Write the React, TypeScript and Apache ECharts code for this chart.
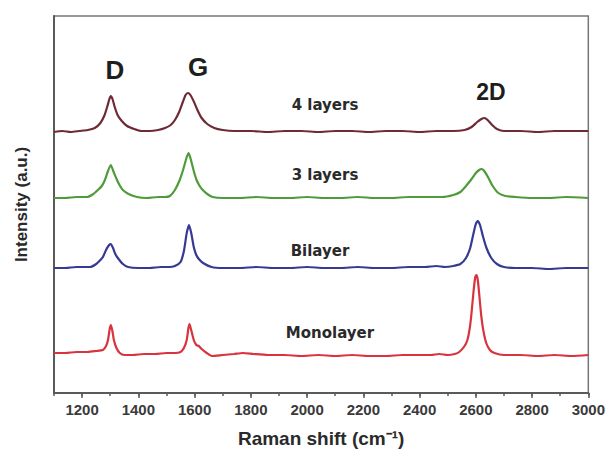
import React, { useEffect, useRef } from "react";
import * as echarts from "echarts";

// Raman spectra: [Raman shift (cm-1), intensity (a.u., offset for display)]
const seriesNames = ["4 layers", "3 layers", "Bilayer", "Monolayer"];
const seriesColors = ["#6e2b36", "#4f9b3b", "#363a92", "#d8333f"];

const fourLayers: number[][] = [
  [1100, 261], [1130, 262], [1160, 261], [1190, 262], [1220, 263], [1245, 265], [1265, 270],
  [1280, 278], [1290, 287], [1297, 294], [1302, 297], [1308, 294], [1316, 286], [1326, 278],
  [1341, 272], [1360, 267], [1385, 264], [1410, 262], [1440, 262], [1470, 263], [1495, 265],
  [1515, 268], [1530, 273], [1545, 281], [1558, 291], [1568, 298], [1576, 300], [1585, 298],
  [1598, 291], [1610, 283], [1625, 275], [1645, 269], [1670, 265], [1700, 263], [1740, 262],
  [1800, 262], [1860, 261], [1920, 262], [1980, 262], [2040, 261], [2100, 262], [2160, 262],
  [2220, 261], [2280, 262], [2340, 262], [2400, 261], [2460, 262], [2520, 262], [2560, 263],
  [2585, 266], [2605, 271], [2620, 274], [2630, 275], [2642, 273], [2658, 268], [2675, 264],
  [2700, 262], [2760, 262], [2820, 261], [2880, 262], [2940, 262], [3000, 262],
];

const threeLayers: number[][] = [
  [1100, 195], [1140, 195], [1180, 196], [1217, 196], [1240, 199], [1256, 203], [1270, 207],
  [1281, 213], [1292, 222], [1302, 228], [1312, 221], [1324, 213], [1335, 207], [1345, 203],
  [1365, 199], [1395, 196], [1430, 195], [1470, 196], [1495, 196], [1512, 197], [1530, 203],
  [1547, 213], [1560, 224], [1572, 236], [1579, 240], [1587, 233], [1597, 222], [1607, 213],
  [1618, 207], [1629, 203], [1645, 199], [1664, 196], [1700, 195], [1760, 195], [1820, 196],
  [1880, 195], [1940, 195], [2000, 196], [2060, 195], [2120, 195], [2180, 196], [2240, 195],
  [2300, 195], [2360, 196], [2420, 196], [2480, 196], [2520, 198], [2545, 201], [2565, 207],
  [2585, 214], [2600, 220], [2612, 223], [2620, 224], [2630, 222], [2645, 215], [2660, 207],
  [2680, 200], [2705, 197], [2740, 196], [2800, 195], [2860, 195], [2920, 196], [3000, 195],
];

const bilayer: number[][] = [
  [1100, 125], [1140, 125], [1180, 126], [1228, 126], [1250, 129], [1265, 133], [1274, 136],
  [1285, 143], [1296, 148], [1302, 149], [1310, 145], [1318, 139], [1327, 135], [1345, 129],
  [1363, 126], [1400, 125], [1440, 125], [1480, 126], [1510, 126], [1530, 127], [1550, 131],
  [1562, 142], [1572, 160], [1580, 168], [1588, 160], [1597, 146], [1606, 138], [1615, 134],
  [1630, 130], [1660, 126], [1700, 125], [1760, 125], [1820, 126], [1880, 125], [1940, 125],
  [2000, 126], [2060, 125], [2120, 125], [2180, 126], [2240, 125], [2300, 125], [2360, 126],
  [2420, 126], [2460, 127], [2490, 126], [2520, 127], [2545, 129], [2565, 135], [2580, 145],
  [2592, 160], [2600, 169], [2607, 172], [2615, 168], [2625, 157], [2638, 145], [2655, 135],
  [2675, 129], [2700, 126], [2740, 125], [2800, 125], [2860, 124], [2920, 125], [3000, 125],
];

const monolayer: number[][] = [
  [1100, 40], [1140, 40], [1180, 41], [1220, 41], [1250, 42], [1274, 43], [1285, 47],
  [1292, 53], [1298, 64], [1302, 68], [1307, 63], [1313, 53], [1322, 45], [1334, 40],
  [1350, 38], [1380, 38], [1420, 39], [1460, 39], [1500, 40], [1530, 40], [1550, 41],
  [1562, 45], [1572, 53], [1578, 65], [1582, 69], [1587, 64], [1597, 53], [1606, 48],
  [1615, 47], [1625, 44], [1643, 40], [1661, 37], [1700, 38], [1740, 39], [1771, 40],
  [1810, 39], [1860, 38], [1920, 38], [1980, 37], [2040, 38], [2100, 37], [2160, 38],
  [2220, 37], [2280, 37], [2340, 38], [2400, 38], [2440, 38], [2470, 39], [2500, 38],
  [2525, 39], [2541, 41], [2560, 47], [2570, 53], [2578, 64], [2584, 78], [2592, 102],
  [2598, 116], [2602, 118], [2607, 113], [2613, 96], [2619, 78], [2627, 62], [2637, 50],
  [2650, 43], [2666, 40], [2700, 38], [2760, 38], [2820, 37], [2880, 38], [2940, 37], [3000, 38],
];

const seriesData = [fourLayers, threeLayers, bilayer, monolayer];

const xTickLabels = [1200, 1400, 1600, 1800, 2000, 2200, 2400, 2600, 2800, 3000];
const xMin = 1100;
const xMax = 3000;

const peakLabels = [
  { text: "D", x: 115, y: 70, size: 26 },
  { text: "G", x: 198, y: 67, size: 26 },
  { text: "2D", x: 491, y: 92, size: 23 },
];
const curveLabels = [
  { text: "4 layers", x: 325, y: 105 },
  { text: "3 layers", x: 325, y: 175 },
  { text: "Bilayer", x: 320, y: 251 },
  { text: "Monolayer", x: 330, y: 333 },
];

export default function App() {
  const ref = useRef<HTMLDivElement>(null);
  useEffect(() => {
    if (!ref.current) return;
    const chart = echarts.init(ref.current, undefined, { renderer: "svg" });
    const axisColor = "#5a5a5a";
    const textColor = "#2a2a2a";
    chart.setOption({
      animation: false,
      backgroundColor: "#ffffff",
      grid: {
        left: 54,
        right: 19,
        top: 16,
        bottom: 61,
        show: true,
        borderColor: "#777",
        borderWidth: 1.5,
        backgroundColor: "transparent",
      },
      xAxis: [
        {
          type: "value",
          min: xMin,
          max: xMax,
          interval: 100,
          position: "bottom",
          axisLine: { lineStyle: { color: axisColor, width: 2 } },
          axisTick: { show: true, length: 3, lineStyle: { color: axisColor, width: 1.5 } },
          axisLabel: { show: false },
          splitLine: { show: false },
          name: "Raman shift (cm\u207B\u00B9)",
          nameLocation: "middle",
          nameGap: 36,
          nameTextStyle: {
            fontFamily: "Liberation Sans, Arial, sans-serif",
            fontWeight: "bold",
            fontSize: 19,
            color: textColor,
          },
        },
        {
          type: "value",
          min: xMin,
          max: xMax,
          position: "bottom",
          axisLine: { show: false },
          axisTick: {
            show: true,
            length: 5,
            customValues: xTickLabels,
            lineStyle: { color: axisColor, width: 1.5 },
          },
          axisLabel: {
            customValues: xTickLabels,
            formatter: (v: number) => String(v),
            margin: 9,
            fontFamily: "Liberation Sans, Arial, sans-serif",
            fontWeight: "bold",
            fontSize: 15,
            color: "#3a3a3a",
          },
          splitLine: { show: false },
        },
      ],
      yAxis: {
        type: "value",
        min: 0,
        max: 377,
        axisLine: { show: true, lineStyle: { color: axisColor, width: 2 } },
        axisTick: { show: false },
        axisLabel: { show: false },
        splitLine: { show: false },
        name: "Intensity (a.u.)",
        nameLocation: "middle",
        nameGap: 24,
        nameTextStyle: {
          fontFamily: "Liberation Sans, Arial, sans-serif",
          fontWeight: "bold",
          fontSize: 17,
          color: textColor,
        },
      },
      series: seriesNames.map((name, i) => ({
        name,
        type: "line",
        xAxisIndex: 0,
        data: seriesData[i],
        showSymbol: false,
        smooth: 0.2,
        lineStyle: { color: seriesColors[i], width: 2.2 },
      })),
      graphic: [
        ...peakLabels.map((p) => ({
          type: "text",
          x: p.x,
          y: p.y,
          style: {
            text: p.text,
            fontFamily: "Liberation Sans, Arial, sans-serif",
            fontWeight: "bold",
            fontSize: p.size,
            fill: "#1e1e1e",
            textAlign: "center",
            textVerticalAlign: "middle",
          },
        })),
        ...curveLabels.map((c) => ({
          type: "text",
          x: c.x,
          y: c.y,
          style: {
            text: c.text,
            fontFamily: "DejaVu Sans, sans-serif",
            fontWeight: "bold",
            fontSize: 15,
            fill: "#2a2a2a",
            textAlign: "center",
            textVerticalAlign: "middle",
          },
        })),
      ],
    });
    return () => chart.dispose();
  }, []);
  return <div ref={ref} style={{ width: 608, height: 454, position: "absolute", left: 0, top: 0 }} />;
}
